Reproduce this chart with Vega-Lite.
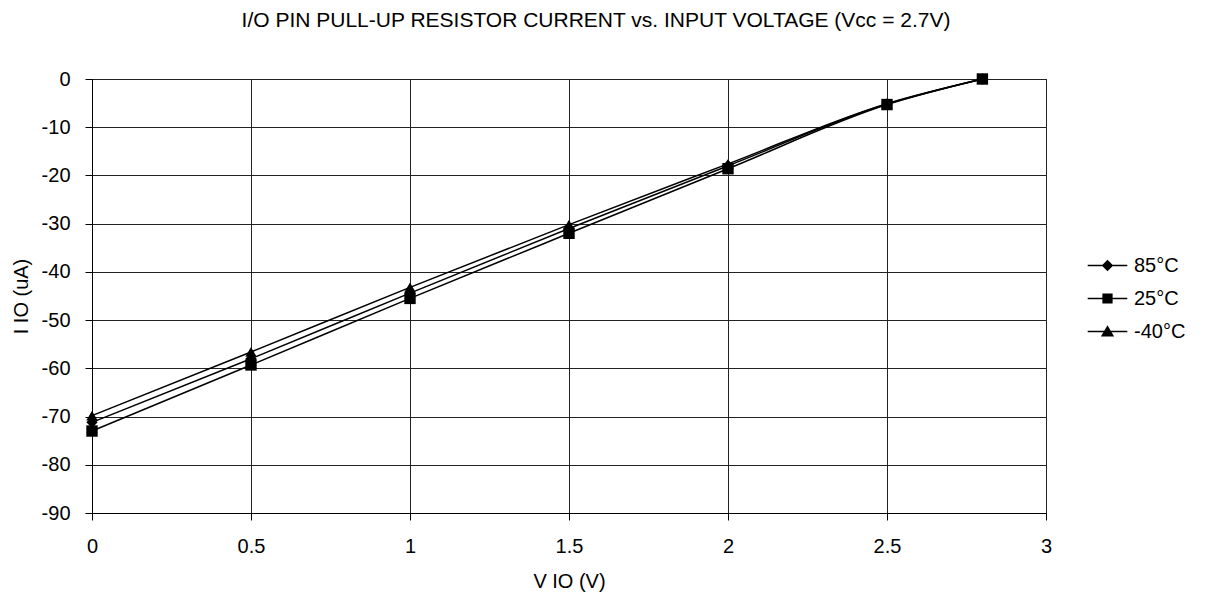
{
  "$schema": "https://vega.github.io/schema/vega-lite/v6.json",
  "width": 954,
  "height": 434,
  "autosize": {"type": "none"},
  "padding": {"left": 92, "top": 79, "right": 161, "bottom": 86},
  "background": "white",
  "title": {
    "text": "I/O PIN PULL-UP RESISTOR CURRENT vs. INPUT VOLTAGE (Vcc = 2.7V)",
    "font": "Liberation Sans",
    "fontSize": 21,
    "fontWeight": "normal",
    "color": "black",
    "anchor": "middle",
    "dx": 27,
    "offset": 38
  },
  "config": {
    "view": {"stroke": "black", "strokeWidth": 1},
    "font": "Liberation Sans",
    "axis": {
      "labelFont": "Liberation Sans",
      "titleFont": "Liberation Sans",
      "labelFontSize": 20,
      "titleFontSize": 20,
      "titleFontWeight": "normal",
      "labelColor": "black",
      "titleColor": "black",
      "domainColor": "black",
      "tickColor": "black",
      "gridColor": "#222222",
      "gridOpacity": 1,
      "gridWidth": 1,
      "tickSize": 7,
      "labelFlush": false
    }
  },
  "data": {
    "values": [
      {"v": 0, "i": -71.2, "t": "85°C"},
      {"v": 0.5, "i": -58.0, "t": "85°C"},
      {"v": 1.0, "i": -44.4, "t": "85°C"},
      {"v": 1.5, "i": -31.0, "t": "85°C"},
      {"v": 2.0, "i": -18.0, "t": "85°C"},
      {"v": 2.5, "i": -5.2, "t": "85°C"},
      {"v": 2.8, "i": 0, "t": "85°C"},
      {"v": 0, "i": -73.0, "t": "25°C"},
      {"v": 0.5, "i": -59.3, "t": "25°C"},
      {"v": 1.0, "i": -45.5, "t": "25°C"},
      {"v": 1.5, "i": -32.0, "t": "25°C"},
      {"v": 2.0, "i": -18.6, "t": "25°C"},
      {"v": 2.5, "i": -5.3, "t": "25°C"},
      {"v": 2.8, "i": 0, "t": "25°C"},
      {"v": 0, "i": -69.8, "t": "-40°C"},
      {"v": 0.5, "i": -56.6, "t": "-40°C"},
      {"v": 1.0, "i": -43.2, "t": "-40°C"},
      {"v": 1.5, "i": -30.2, "t": "-40°C"},
      {"v": 2.0, "i": -17.6, "t": "-40°C"},
      {"v": 2.5, "i": -5.1, "t": "-40°C"},
      {"v": 2.8, "i": 0, "t": "-40°C"}
    ]
  },
  "encoding": {
    "x": {
      "field": "v",
      "type": "quantitative",
      "scale": {"domain": [0, 3], "nice": false, "zero": false},
      "axis": {
        "values": [0, 0.5, 1, 1.5, 2, 2.5, 3],
        "labelExpr": "'' + datum.value",
        "title": "V IO (V)",
        "labelPadding": 16,
        "titlePadding": 15,
        "grid": true
      }
    },
    "y": {
      "field": "i",
      "type": "quantitative",
      "scale": {"domain": [-90, 0], "nice": false, "zero": false},
      "axis": {
        "values": [-90, -80, -70, -60, -50, -40, -30, -20, -10, 0],
        "labelExpr": "'' + datum.value",
        "title": "I IO (uA)",
        "labelPadding": 15,
        "titlePadding": 10,
        "grid": true
      }
    }
  },
  "resolve": {"scale": {"shape": "independent"}},
  "layer": [
    {
      "mark": {"type": "line", "interpolate": "monotone", "color": "black", "strokeWidth": 1.5},
      "encoding": {"detail": {"field": "t"}}
    },
    {
      "mark": {"type": "point", "filled": true, "opacity": 1, "color": "black", "size": 130},
      "encoding": {
        "shape": {
          "field": "t",
          "type": "nominal",
          "scale": {"domain": ["85°C", "25°C", "-40°C"], "range": ["diamond", "square", "triangle-up"]},
          "legend": null
        }
      }
    },
    {
      "mark": {"type": "point", "filled": true, "color": "black", "size": 0},
      "encoding": {
        "shape": {
          "field": "t",
          "type": "nominal",
          "scale": {
            "domain": ["85°C", "25°C", "-40°C"],
            "range": [
              "M-1.2,-0.045H1.2V0.045H-1.2ZM0,-0.35L0.35,0L0,0.35L-0.35,0Z",
              "M-1.2,-0.045H1.2V0.045H-1.2ZM-0.31,-0.31H0.31V0.31H-0.31Z",
              "M-1.2,-0.045H1.2V0.045H-1.2ZM0,-0.38L0.4,0.31H-0.4Z"
            ]
          },
          "legend": {
            "title": null,
            "orient": "none",
            "legendX": 999,
            "legendY": 170,
            "padding": 0,
            "symbolSize": 1089,
            "symbolFillColor": "black",
            "symbolStrokeWidth": 0,
            "symbolOpacity": 1,
            "labelFont": "Liberation Sans",
            "labelFontSize": 20,
            "labelColor": "black",
            "labelOffset": 10,
            "rowPadding": 6
          }
        }
      }
    }
  ]
}
